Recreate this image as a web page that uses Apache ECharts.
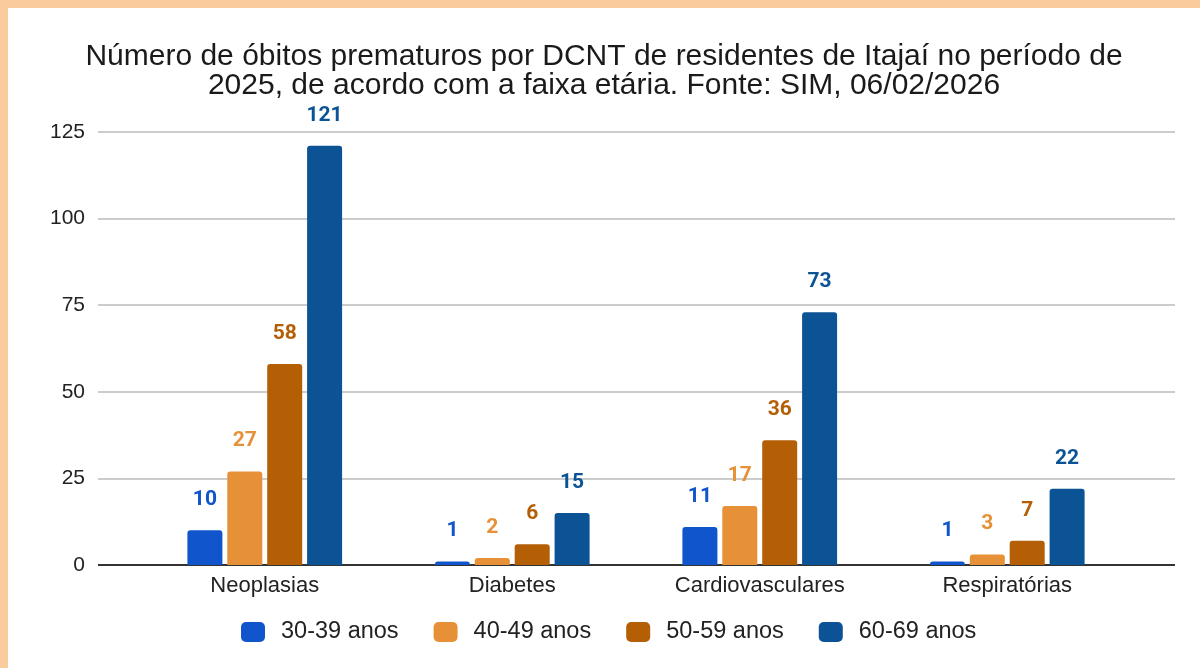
<!DOCTYPE html>
<html lang="pt">
<head>
<meta charset="UTF-8">
<title>Óbitos prematuros por DCNT - Itajaí 2025</title>
<script src="https://cdn.jsdelivr.net/npm/echarts@6/dist/echarts.min.js"></script>
<style>
    html, body { margin: 0; padding: 0; background: #FACB9D; }
    #chart { position: absolute; left: 8px; top: 8px; width: 1192px; height: 660px; background: #fff; }
</style>
</head>
<body>
<div id="chart"></div>
<script>
    var categories = ['Neoplasias', 'Diabetes', 'Cardiovasculares', 'Respiratórias'];
    var faixas = ['30-39 anos', '40-49 anos', '50-59 anos', '60-69 anos'];
    var v30_39 = [10, 1, 11, 1];
    var v40_49 = [27, 2, 17, 3];
    var v50_59 = [58, 6, 36, 7];
    var v60_69 = [121, 15, 73, 22];
    var yTicks = [0, 25, 50, 75, 100, 125];

    var cores = ['#1155CC', '#E69138', '#B45F06', '#0B5394'];
    var valores = [v30_39, v40_49, v50_59, v60_69];
    var fonte = 'Liberation Sans, Arial, sans-serif';

    var chart = echarts.init(document.getElementById('chart'));

    var series = faixas.map(function (nome, i) {
        return {
            name: nome,
            type: 'bar',
            xAxisIndex: 1,
            yAxisIndex: 1,
            barWidth: 35,
            barGap: '14%',
            data: valores[i],
            itemStyle: { color: cores[i], borderRadius: [3, 3, 0, 0] },
            label: {
                show: true,
                position: 'top',
                distance: 20,
                color: cores[i],
                fontSize: 21,
                fontWeight: 'bold',
                fontFamily: 'Roboto, sans-serif'
            }
        };
    });

    var option = {
        animation: false,
        title: {
            text: 'Número de óbitos prematuros por DCNT de residentes de Itajaí no período de\n2025, de acordo com a faixa etária. Fonte: SIM, 06/02/2026',
            left: 'center',
            top: 34,
            padding: [0, 0, 0, 20],
            textStyle: {
                fontFamily: fonte,
                fontSize: 30,
                fontWeight: 'normal',
                color: '#1a1a1a',
                lineHeight: 29,
                align: 'center'
            }
        },
        legend: {
            data: faixas,
            left: 228,
            top: 607,
            itemWidth: 24,
            itemHeight: 20,
            itemGap: 35,
            icon: 'roundRect',
            textStyle: { fontFamily: fonte, fontSize: 23.5, color: '#222', padding: [0, 0, 0, 11] }
        },
        grid: [
            { left: 90, right: 25, top: 124, bottom: 103 },
            { left: 133, right: 69, top: 124, bottom: 103 }
        ],
        xAxis: [
            { type: 'value', gridIndex: 0, show: false, min: 0, max: 1 },
            {
                type: 'category',
                gridIndex: 1,
                data: categories,
                axisLine: { show: false },
                axisTick: { show: false },
                axisLabel: { fontFamily: fonte, fontSize: 22, color: '#222', margin: 10 }
            }
        ],
        yAxis: [
            {
                type: 'value',
                gridIndex: 0,
                min: yTicks[0],
                max: yTicks[yTicks.length - 1],
                interval: 25,
                axisLine: { show: false },
                axisTick: { show: false },
                axisLabel: { fontFamily: fonte, fontSize: 21, color: '#222', margin: 13 },
                splitLine: {
                    lineStyle: {
                        width: 2,
                        color: ['#333', '#cccccc', '#cccccc', '#cccccc', '#cccccc', '#cccccc']
                    }
                }
            },
            {
                type: 'value',
                gridIndex: 1,
                min: yTicks[0],
                max: yTicks[yTicks.length - 1],
                interval: 25,
                show: false
            }
        ],
        series: series
    };

    chart.setOption(option);
</script>
</body>
</html>
